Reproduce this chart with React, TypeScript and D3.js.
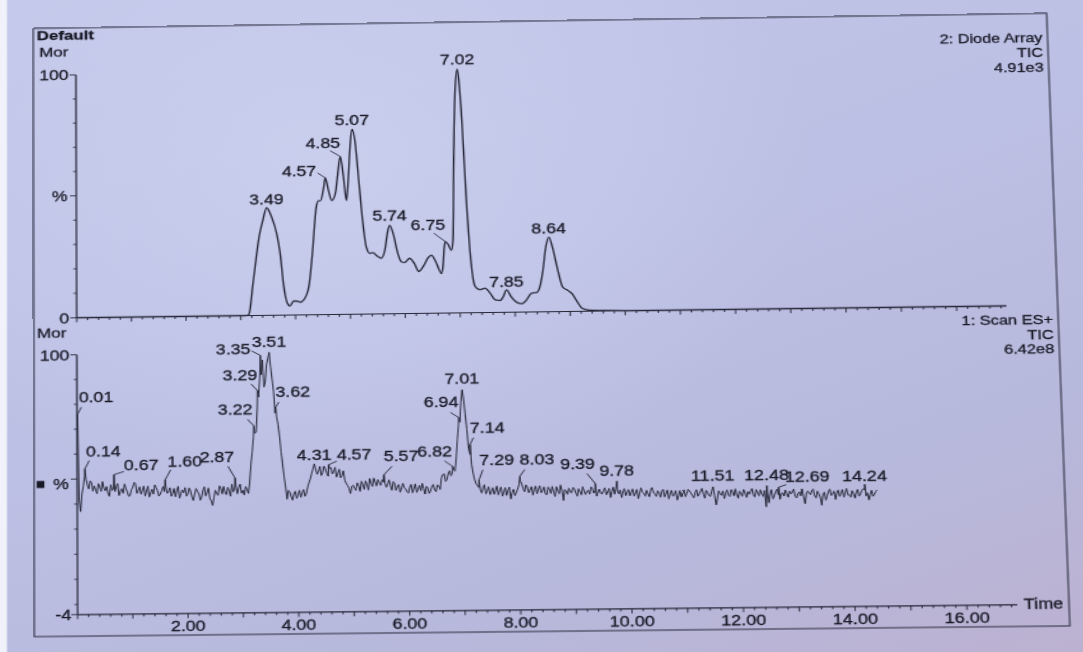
import React from "react";
import * as d3 from "d3";

// ---- 2: Diode Array, TIC (upper trace) ----
const daTimes = [0, 3.1, 3.15, 3.23, 3.36, 3.42, 3.49, 3.58, 3.67, 3.73, 3.79, 3.85, 3.9, 3.97, 4.04, 4.09, 4.16, 4.25, 4.32, 4.4, 4.44, 4.48, 4.54, 4.57, 4.63, 4.685, 4.75, 4.8, 4.85, 4.9, 4.955, 4.99, 5.035, 5.07, 5.125, 5.185, 5.245, 5.305, 5.365, 5.425, 5.515, 5.575, 5.645, 5.705, 5.74, 5.8, 5.88, 5.94, 6.0, 6.095, 6.175, 6.26, 6.34, 6.435, 6.495, 6.57, 6.67, 6.7, 6.73, 6.75, 6.8, 6.86, 6.89, 6.93, 6.975, 7.02, 7.05, 7.09, 7.15, 7.21, 7.28, 7.37, 7.46, 7.55, 7.64, 7.73, 7.79, 7.85, 7.93, 8.06, 8.12, 8.21, 8.3, 8.4, 8.46, 8.52, 8.58, 8.64, 8.7, 8.79, 8.87, 8.97, 9.035, 9.13, 9.22, 9.34, 9.6, 10.0, 16.9];
const daValues = [0, 0, 0.6, 13.3, 33.5, 38.9, 44.0, 40.2, 33.4, 25.3, 11.8, 5.0, 3.7, 5.7, 5.6, 5.2, 6.3, 11.7, 25.1, 44.0, 46.6, 46.6, 52.0, 56.0, 50.6, 46.6, 49.2, 57.3, 64.7, 57.3, 46.5, 54.5, 69.4, 75.8, 70.7, 54.5, 38.3, 27.5, 24.8, 25.0, 23.4, 22.7, 26.0, 34.1, 36.1, 32.7, 24.6, 21.2, 20.8, 22.5, 20.5, 17.1, 19.1, 22.8, 23.7, 21.0, 16.3, 18.9, 27.0, 29.2, 28.0, 25.6, 29.6, 64.7, 92, 100, 94, 78.1, 44.4, 21.5, 10.7, 9.3, 9.9, 7.9, 5.1, 4.8, 6.4, 9.1, 6.4, 3.7, 3.4, 4.9, 7.6, 7.9, 10.3, 17.0, 26.4, 30.4, 26.3, 16.9, 10.1, 8.5, 7.4, 4.0, 1.2, 0.5, 0.2, 0, 0];
const daPeakLabels = [3.49, 4.57, 4.85, 5.07, 5.74, 6.75, 7.02, 7.85, 8.64];

// ---- 1: Scan ES+, TIC (lower trace) ----
// scans every 0.05 min starting at 0.01 min
const esScanStart = 0.01;
const esScanStep = 0.05;
const esScanValues = [
  76, 37, 47, 50, 46, 48.5, 47.2, 44, 46.8, 48.9,
  45.2, 44.1, 47.6, 46, 46.8, 43.2, 45.9, 47.8, 44.6, 43.1,
  46.4, 47.9, 45.1, 43.7, 46.9, 44.8, 42.5, 45.6, 47.3, 44.9,
  43.6, 46.6, 46.8, 44.3, 42.7, 45.8, 44.9, 41.9, 45.2, 46.1,
  43.4, 44.8, 40.9, 45.7, 43.6, 42.1, 46.3, 44.0, 41.6, 38.8,
  44.9, 42.8, 45.6, 46.4, 43.1, 44.7, 47.3, 45.1, 43.4, 47.2,
  44.8, 46.2, 43.5, 55, 66, 68, 82, 91, 86, 95,
  100, 89, 75.5, 71, 60, 50, 41, 43.9, 40.6, 44.1,
  42.6, 41.7, 44.8, 43.0, 47.5, 51.2, 55, 50.8, 53.9, 51.4,
  52.9, 50.0, 53.4, 51.8, 49.6, 52.7, 50.2, 48.4, 46.2, 43.0,
  46.3, 44.2, 45.9, 47.8, 44.6, 46.5, 48.9, 45.7, 47.3, 48.4,
  46.1, 47.4, 45.3, 48.2, 44.1, 46.9, 45.6, 43.2, 46.8, 44.5,
  42.9, 46.3, 44.8, 43.1, 45.9, 46.7, 42.4, 44.9, 43.6, 46.2,
  43.3, 45.6, 48.8, 50.4, 48.1, 51.6, 50.8, 51.5, 64, 71,
  84, 74, 60.5, 54, 48, 45.6, 43.9, 44.6, 42.2, 45.0,
  43.1, 42.0, 45.3, 43.7, 41.2, 44.6, 43.5, 40.1, 43.9, 42.6,
  45.7, 46.0, 42.9, 44.8, 43.6, 41.5, 45.1, 43.9, 42.4, 44.7,
  41.6, 43.8, 44.9, 40.8, 43.3, 45.4, 39.2, 43.0, 44.1, 42.3,
  43.8, 40.9, 42.7, 44.6, 41.5, 43.2, 44.5, 42.0, 40.8, 43.6,
  41.7, 44.1, 42.4, 40.2, 44.3, 43.9, 41.6, 40.1, 43.7, 42.2,
  40.8, 43.5, 42.0, 39.6, 43.9, 41.7, 42.9, 40.3, 44.0, 41.4,
  42.6, 40.1, 43.2, 41.5, 39.4, 42.8, 41.0, 38.9, 42.6, 41.8,
  40.2, 43.1, 41.6, 39.7, 42.9, 41.3, 43.4, 39.5, 41.8, 40.2,
  44, 36.8, 42.4, 40.6, 39.3, 42.7, 40.1, 41.9, 43.0, 39.4,
  41.2, 42.8, 39.6, 40.9, 43.1, 39.8, 41.5, 42.6, 39.9, 35.8,
  37.4, 42.6, 40.1, 42.8, 38.7, 41.3, 42.4, 39.5, 40.8, 42.7,
  39.2, 41.6, 42.8, 36.9, 41.9, 40.4, 42.6, 39.1, 40.7, 36.2,
  41.3, 39.8, 42.5, 40.6, 38.4, 42.1, 40.9, 39.3, 42.7, 40.2,
  41.8, 38.9, 42.3, 40.5, 42.5, 39.6, 38.1, 41.9, 40.3, 42.0,
];
// interleaved scans, halfway between the ones above (from 0.035 min)
const esInterStart = 0.035;
const esInterValues = [
  42, 44, 51, 47.5, 49.2, 45.1, 45.6, 48.1, 45.0, 46.3,
  46.9, 43.0, 45.3, 44.8, 48.0, 45.0, 44.1, 46.2, 42.9, 45.5,
  48.4, 44.0, 46.6, 45.2, 42.9, 46.9, 44.1, 43.6, 46.2, 42.8,
  45.0, 44.6, 43.9, 46.1, 43.8, 42.5, 46.6, 43.7, 44.0, 42.7,
  45.9, 42.3, 43.6, 44.5, 41.0, 44.9, 42.7, 45.8, 40.7, 42.1,
  43.5, 46.6, 43.4, 44.1, 46.0, 42.4, 44.2, 46.4, 45.8, 43.6,
  42.9, 45.0, 48, 60, 67.5, 78, 90, 97, 88, 97.5,
  94, 84, 74, 66, 55, 46, 44.5, 42.0, 43.2, 41.3,
  44.5, 43.4, 42.1, 45.6, 49.0, 53.0, 52.6, 52.0, 50.3, 54.0,
  51.2, 53.2, 50.9, 53.5, 51.0, 49.3, 52.1, 47.0, 45.0, 45.8,
  45.1, 47.2, 43.8, 46.4, 47.9, 44.3, 47.1, 49.0, 45.9, 47.0,
  48.3, 47.0, 46.6, 45.9, 47.5, 44.0, 46.3, 44.9, 45.1, 43.4,
  45.2, 43.0, 46.5, 44.4, 43.8, 44.6, 45.5, 42.7, 45.4, 44.0,
  46.0, 44.2, 50.1, 47.4, 50.5, 49.6, 52.0, 57, 70, 79,
  80, 68, 58, 50.5, 46.3, 44.8, 42.6, 45.8, 43.4, 41.9,
  44.6, 43.5, 41.8, 44.9, 42.9, 41.5, 44.8, 42.7, 41.4, 44.0,
  47.2, 44.1, 45.6, 42.5, 44.9, 43.8, 42.0, 45.2, 43.1, 41.9,
  44.6, 42.1, 42.6, 44.8, 41.9, 43.3, 43.6, 41.7, 42.5, 44.4,
  42.2, 43.8, 41.4, 43.0, 42.8, 41.6, 43.9, 43.1, 42.4, 41.9,
  43.0, 41.3, 43.8, 42.6, 41.5, 42.8, 43.2, 42.4, 40.9, 43.3,
  42.3, 40.7, 43.3, 41.8, 42.2, 40.6, 41.5, 43.1, 42.0, 40.4,
  41.9, 42.5, 40.2, 42.9, 41.3, 40.4, 42.6, 40.5, 40.1, 42.9,
  41.5, 42.4, 40.6, 41.8, 40.3, 42.4, 41.0, 42.6, 40.5, 42.3,
  40.5, 39.2, 41.1, 42.3, 41.4, 40.6, 42.8, 40.3, 40.8, 42.1,
  40.1, 41.4, 41.9, 42.2, 40.4, 42.7, 40.2, 41.0, 42.3, 41.5,
  41.2, 38.9, 41.6, 40.5, 41.0, 40.0, 40.9, 42.0, 41.6, 39.8,
  40.9, 40.0, 39.6, 40.6, 41.3, 42.0, 40.0, 41.8, 39.4, 40.5,
  38.2, 41.6, 40.0, 41.7, 41.0, 39.6, 42.3, 41.0, 40.1, 39.3,
  40.6, 41.2, 39.6, 41.9, 42.0, 40.9, 40.2, 39.5, 41.4,
];
// labelled maxima falling between the scans above
const esApexTimes = [0.14, 0.67, 1.6, 2.87, 3.22, 3.29, 3.35, 3.62, 4.57, 5.57, 6.82, 6.94, 7.14, 7.29, 8.03, 9.39, 9.78, 12.48, 12.69, 14.24];
const esApexValues = [54, 51.6, 49.3, 49.7, 70.5, 84.7, 98.8, 77.9, 54.6, 50.3, 53.3, 72.9, 62, 47.8, 49.1, 45.8, 46.7, 44.2, 43.5, 44.3];
const esPeakLabels = [0.01, 0.14, 0.67, 1.6, 2.87, 3.22, 3.29, 3.35, 3.51, 3.62, 4.31, 4.57, 5.57, 6.82, 6.94, 7.01, 7.14, 7.29, 8.03, 9.39, 9.78, 11.51, 12.48, 12.69, 14.24];

// x axis labels (minutes)
const timeTicks = [2, 4, 6, 8, 10, 12, 14, 16];

// ---- label placement (offsets from the apex, in sheet units) ----
type Place = { dx: number; dy: number; anchor: "start" | "middle" | "end"; lead?: [number, number] };
const mid = (dy: number): Place => ({ dx: 0, dy, anchor: "middle" });
const daPlace: Record<string, Place> = {
  "3.49": mid(-3.5),
  "4.57": { dx: -7, dy: -2, anchor: "end", lead: [1, -3] },
  "4.85": { dx: 0, dy: -9, anchor: "end", lead: [-8, 3] },
  "5.07": mid(-4),
  "5.74": mid(-5),
  "6.75": { dx: 0, dy: -11.5, anchor: "end", lead: [-9, 3] },
  "7.02": mid(-5),
  "7.85": mid(-3.5),
  "8.64": mid(-3.5),
};
const esPlace: Record<string, Place> = {
  "0.01": { dx: 1, dy: -12, anchor: "start", lead: [2, 5] },
  "0.14": { dx: 1, dy: -12.4, anchor: "start", lead: [2.5, 4] },
  "0.67": { dx: 7.8, dy: -4.5, anchor: "start", lead: [0, 1.5] },
  "1.60": { dx: 1.9, dy: -13.4, anchor: "start", lead: [2.5, 3.5] },
  "2.87": { dx: -0.5, dy: -16, anchor: "end", lead: [-5, 4.3] },
  "3.22": { dx: -1, dy: -11, anchor: "end", lead: [-4, 4.4] },
  "3.29": { dx: 0, dy: -10, anchor: "end", lead: [-5, 3.4] },
  "3.35": { dx: -7.8, dy: -1.6, anchor: "end", lead: [1, -3] },
  "3.51": mid(-5),
  "3.62": { dx: 0, dy: -10, anchor: "start", lead: [2.6, 5] },
  "4.31": mid(-4),
  "4.57": { dx: 6.5, dy: -5, anchor: "start", lead: [0, 1.6] },
  "5.57": { dx: 0, dy: -13.4, anchor: "start", lead: [6.5, 5] },
  "6.82": { dx: -0.5, dy: -10, anchor: "end", lead: [-6, 4.4] },
  "6.94": { dx: 0, dy: -10.7, anchor: "end", lead: [-6.4, 5.7] },
  "7.01": mid(-6),
  "7.14": { dx: 0, dy: -11.7, anchor: "start", lead: [2.6, 5] },
  "7.29": { dx: 0.5, dy: -15, anchor: "start", lead: [2.6, 5] },
  "8.03": { dx: 0, dy: -11.6, anchor: "start", lead: [3.9, 5] },
  "9.39": { dx: 0, dy: -15, anchor: "end", lead: [-6.4, 5] },
  "9.78": mid(-5),
  "11.51": mid(-6),
  "12.48": mid(-5.3),
  "12.69": { dx: 5, dy: -5.6, anchor: "start", lead: [1, 3] },
  "14.24": mid(-3),
};

// ---- sheet geometry ----
const SHEET_W = 805;
const SHEET_H = 609;
// where the sheet's frame corners sit on the page (TL, TR, BR, BL): the printout is viewed at a slight angle
const frameCorners = [
  [33.3, 28.5],
  [1046.7, 13.3],
  [1070, 626],
  [34.3, 636.7],
];

function projectiveMatrix(dst: number[][]): string {
  const src = [[0, 0], [SHEET_W, 0], [SHEET_W, SHEET_H], [0, SHEET_H]];
  const A: number[][] = [];
  const b: number[] = [];
  for (let i = 0; i < 4; i++) {
    const [X, Y] = src[i];
    const [u, v] = dst[i];
    A.push([X, Y, 1, 0, 0, 0, -X * u, -Y * u]);
    b.push(u);
    A.push([0, 0, 0, X, Y, 1, -X * v, -Y * v]);
    b.push(v);
  }
  const n = 8;
  for (let c = 0; c < n; c++) {
    let p = c;
    for (let r = c + 1; r < n; r++) if (Math.abs(A[r][c]) > Math.abs(A[p][c])) p = r;
    [A[c], A[p]] = [A[p], A[c]];
    [b[c], b[p]] = [b[p], b[c]];
    for (let r = 0; r < n; r++) {
      if (r === c) continue;
      const f = A[r][c] / A[c][c];
      for (let k = c; k < n; k++) A[r][k] -= f * A[c][k];
      b[r] -= f * b[c];
    }
  }
  const h = b.map((val, i) => val / A[i][i]);
  const [a, bb, c, d, e, f, g, hh] = h;
  return `matrix3d(${a},${d},0,${g},${bb},${e},0,${hh},0,0,1,0,${c},${f},0,1)`;
}

const INK = "#181926";
const LINE = "#262738";
const FONT = "'Liberation Sans', Arial, Helvetica, sans-serif";
const fmt2 = d3.format(".2f");
const inkText = { fill: INK, stroke: INK, strokeWidth: 0.3 };

const scanSeries = (start: number, values: number[]): [number, number][] =>
  values.map((v, i) => [+(start + i * esScanStep).toFixed(3), v] as [number, number]);

export default function App() {
  const x = d3.scaleLinear().domain([0, 16.9]).range([34, 765]);
  const yTop = d3.scaleLinear().domain([0, 100]).range([293.5, 48]);
  const yBot = d3.scaleLinear().domain([-4, 100]).range([587.8, 330.5]);
  const x0 = x(0);
  const xEnd = x(16.9);

  const daPts: [number, number][] = daTimes.map((t, i) => [t, daValues[i]]);
  const esPts: [number, number][] = scanSeries(esScanStart, esScanValues)
    .concat(scanSeries(esInterStart, esInterValues))
    .concat(esApexTimes.map((t, i) => [t, esApexValues[i]] as [number, number]))
    .sort((p, q) => p[0] - q[0]);

  const daLine = d3
    .line<[number, number]>()
    .x((d) => x(d[0]))
    .y((d) => yTop(d[1]))
    .curve(d3.curveMonotoneX);
  const esLine = d3
    .line<[number, number]>()
    .x((d) => x(d[0]))
    .y((d) => yBot(d[1]))
    .curve(d3.curveLinear);

  const minor = d3.range(0, 85).map((i) => ({ t: i * 0.2, major: i % 5 === 0 }));
  const yTicks = d3.range(0, 11).map((i) => i * 10);

  const valueAt = (pts: [number, number][], t: number) => {
    const hit = pts.find((p) => Math.abs(p[0] - t) < 1e-6);
    return hit ? hit[1] : 0;
  };

  const renderLabels = (
    labels: number[],
    pts: [number, number][],
    y: d3.ScaleLinear<number, number>,
    place: Record<string, Place>,
    key: string
  ) =>
    labels.map((t) => {
      const name = fmt2(t);
      const p = place[name] || mid(-4);
      const ax = x(t);
      const ay = y(valueAt(pts, t));
      const tx = ax + p.dx;
      const ty = ay + p.dy;
      return (
        <g key={`${key}-${name}`}>
          {p.lead && (
            <line x1={tx + p.lead[0]} y1={ty + p.lead[1]} x2={ax} y2={ay} stroke={LINE} strokeWidth={0.9} />
          )}
          <text x={tx} y={ty} textAnchor={p.anchor} fontSize={14} {...inkText}>
            {name}
          </text>
        </g>
      );
    });

  const xAxis = (yPos: number, key: string) => (
    <g key={key}>
      <line x1={x0} x2={xEnd} y1={yPos} y2={yPos} stroke={LINE} strokeWidth={1.2} />
      {minor.map((m) => (
        <line
          key={`${key}-${m.t.toFixed(1)}`}
          x1={x(m.t)}
          x2={x(m.t)}
          y1={yPos}
          y2={yPos + (m.major ? 4.5 : 2.5)}
          stroke={LINE}
          strokeWidth={0.9}
        />
      ))}
    </g>
  );

  const yAxis = (y: d3.ScaleLinear<number, number>, lo: number, key: string, major: number[]) => (
    <g key={key}>
      <line x1={x0} x2={x0} y1={y(100)} y2={y(lo)} stroke={LINE} strokeWidth={1.2} />
      {yTicks.concat(lo < 0 ? [lo] : []).map((v) => (
        <line
          key={`${key}-${v}`}
          x1={x0}
          x2={x0 - (major.includes(v) ? 5 : 2.5)}
          y1={y(v)}
          y2={y(v)}
          stroke={LINE}
          strokeWidth={0.9}
        />
      ))}
    </g>
  );

  const matrix = projectiveMatrix(frameCorners);
  const rightX = 801;
  const hdr = 12.8;

  return (
    <div
      style={{
        position: "fixed",
        left: 0,
        top: 0,
        width: 1083,
        height: 652,
        overflow: "hidden",
        background: [
          "linear-gradient(90deg, rgba(243,244,251,0.95) 0px, rgba(243,244,251,0.95) 6px, rgba(243,244,251,0) 8px)",
          "radial-gradient(ellipse 60% 70% at 30% 25%, rgba(210,214,242,0.6), rgba(210,214,242,0) 75%)",
          "linear-gradient(160deg, #c3c7e9 0%, #bcc0e4 45%, #b7b9dc 75%, #bcb1d1 100%)",
        ].join(","),
      }}
    >
      <svg
        width={SHEET_W}
        height={SHEET_H}
        style={{
          position: "absolute",
          left: 0,
          top: 0,
          overflow: "visible",
          transformOrigin: "0 0",
          transform: matrix,
        }}
        fontFamily={FONT}
      >
        {/* frame */}
        <rect x={0} y={0} width={SHEET_W} height={SHEET_H} fill="none" stroke="#35374c" strokeWidth={1.1} />

        {/* header texts */}
        <text x={2.7} y={12.3} fontSize={13.5} fontWeight="bold" {...inkText}>Default</text>
        <text x={4.7} y={29.3} fontSize={13.5} {...inkText}>Mor</text>
        <text x={rightX} y={29} fontSize={hdr} textAnchor="end" {...inkText}>2: Diode Array</text>
        <text x={rightX} y={43.8} fontSize={hdr} textAnchor="end" {...inkText}>TIC</text>
        <text x={rightX} y={58.6} fontSize={hdr} textAnchor="end" {...inkText}>4.91e3</text>

        <text x={2.4} y={312.7} fontSize={13.5} {...inkText}>Mor</text>
        <text x={rightX} y={311.8} fontSize={hdr} textAnchor="end" {...inkText}>1: Scan ES+</text>
        <text x={rightX} y={326.6} fontSize={hdr} textAnchor="end" {...inkText}>TIC</text>
        <text x={rightX} y={341.4} fontSize={hdr} textAnchor="end" {...inkText}>6.42e8</text>

        {/* upper panel axes */}
        {yAxis(yTop, 0, "ya-top", [0, 50, 100])}
        {xAxis(yTop(0), "xa-top")}
        <text x={x0 - 6} y={yTop(100)} dy="0.36em" fontSize={14} textAnchor="end" {...inkText}>100</text>
        <text x={x0 - 7} y={yTop(50)} dy="0.36em" fontSize={14} textAnchor="end" {...inkText}>%</text>
        <text x={x0 - 6} y={yTop(0)} dy="0.36em" fontSize={14} textAnchor="end" {...inkText}>0</text>

        {/* lower panel axes */}
        {yAxis(yBot, -4, "ya-bot", [100, 50, -4])}
        {xAxis(yBot(-4), "xa-bot")}
        <text x={x0 - 6} y={yBot(100)} dy="0.36em" fontSize={14} textAnchor="end" {...inkText}>100</text>
        <text x={x0 - 6.5} y={yBot(48)} dy="0.36em" fontSize={14} textAnchor="end" {...inkText}>%</text>
        <rect x={2.1} y={yBot(48) - 3.5} width={6} height={7} fill={INK} />
        <text x={x0 - 5} y={yBot(-4)} dy="0.36em" fontSize={14} textAnchor="end" {...inkText}>-4</text>
        {timeTicks.map((t) => (
          <text key={`tl-${t}`} x={x(t)} y={605.5} fontSize={14} textAnchor="middle" {...inkText}>
            {fmt2(t)}
          </text>
        ))}
        <text x={xEnd + 5} y={592.5} fontSize={14} {...inkText}>Time</text>

        {/* traces */}
        <path d={daLine(daPts) || ""} fill="none" stroke={LINE} strokeWidth={1.3} />
        <path d={esLine(esPts) || ""} fill="none" stroke={LINE} strokeWidth={0.95} strokeLinejoin="round" />

        {/* peak labels */}
        {renderLabels(daPeakLabels, daPts, yTop, daPlace, "da")}
        {renderLabels(esPeakLabels, esPts, yBot, esPlace, "es")}
      </svg>
    </div>
  );
}
